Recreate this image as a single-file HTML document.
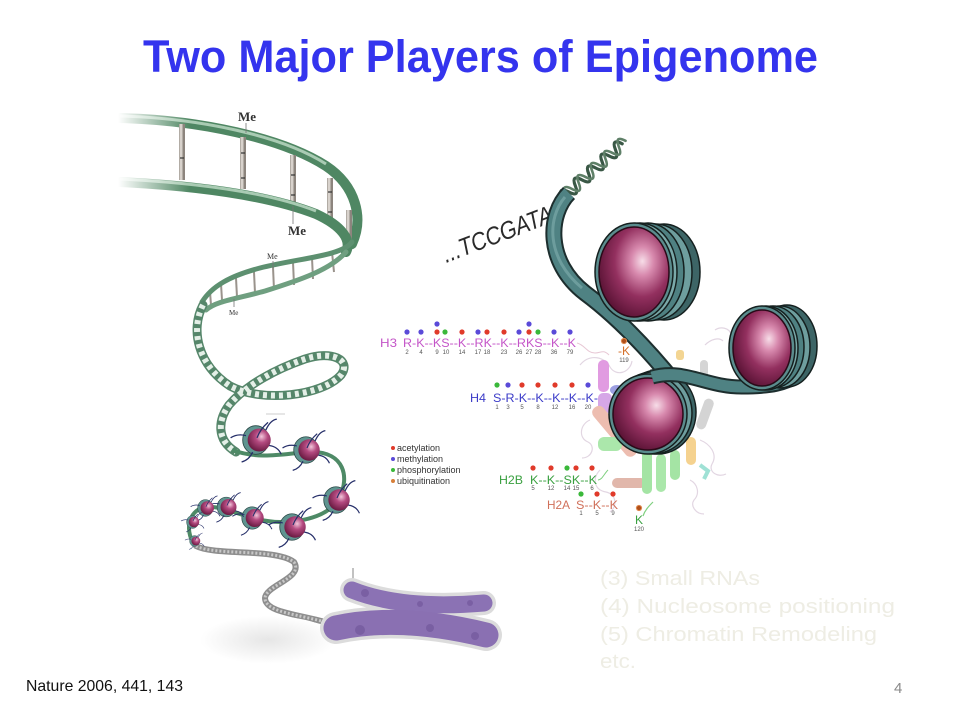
<!DOCTYPE html>
<html><head><meta charset="utf-8">
<style>
html,body{margin:0;padding:0;background:#fff;}
svg{display:block;}
</style></head>
<body>
<svg width="960" height="720" viewBox="0 0 960 720" xmlns="http://www.w3.org/2000/svg" font-family="'Liberation Sans', sans-serif">
<defs>
  <radialGradient id="nuc" cx="0.62" cy="0.38" r="0.72">
    <stop offset="0" stop-color="#f7dde8"/>
    <stop offset="0.22" stop-color="#d88aae"/>
    <stop offset="0.55" stop-color="#93305f"/>
    <stop offset="1" stop-color="#4e0d2c"/>
  </radialGradient>
  <radialGradient id="nucS" cx="0.6" cy="0.35" r="0.75">
    <stop offset="0" stop-color="#f2c6da"/>
    <stop offset="0.35" stop-color="#b44a80"/>
    <stop offset="1" stop-color="#5a1034"/>
  </radialGradient>
  <linearGradient id="fadeG" gradientUnits="userSpaceOnUse" x1="118" y1="0" x2="190" y2="0">
    <stop offset="0" stop-color="#ffffff"/>
    <stop offset="1" stop-color="#4f8763"/>
  </linearGradient>
  <linearGradient id="fadeG2" gradientUnits="userSpaceOnUse" x1="118" y1="0" x2="190" y2="0">
    <stop offset="0" stop-color="#ffffff"/>
    <stop offset="1" stop-color="#a9cbb3"/>
  </linearGradient>
  <radialGradient id="shadow" cx="0.5" cy="0.5" r="0.5">
    <stop offset="0" stop-color="#e6e6e6"/>
    <stop offset="1" stop-color="#ffffff"/>
  </radialGradient>
  <g id="sn">
    <ellipse cx="-1" cy="0" rx="12" ry="13" fill="#5f9490" stroke="#2c4a48" stroke-width="0.8"/>
    <circle cx="2" cy="0" r="10.5" fill="url(#nucS)"/>
    <path d="M-10,-4 q-8,-2 -14,2 M8,-9 q4,-9 10,-10 M11,5 q8,1 11,8 M-4,11 q-3,7 -10,9 M0,-2 q3,-8 10,-14" stroke="#27306a" stroke-width="1.2" fill="none"/>
  </g>
</defs>

<rect width="960" height="720" fill="#fff"/>

<!-- Title -->
<text x="143" y="72" font-size="45" font-weight="bold" fill="#3434ee" textLength="675" lengthAdjust="spacingAndGlyphs">Two Major Players of Epigenome</text>

<!-- ============ LEFT FIGURE ============ -->
<path d="M120,118 C200,120 282,138 326,166 C356,186 364,218 352,244" fill="none" stroke="url(#fadeG)" stroke-width="10" stroke-linecap="round"/>
<path d="M120,116 C200,118 282,136 326,164" fill="none" stroke="url(#fadeG2)" stroke-width="3"/>
<g stroke="#8d857e" stroke-width="6" stroke-linecap="butt">
  <line x1="182" y1="124" x2="182" y2="180"/>
  <line x1="243" y1="137" x2="243" y2="189"/>
  <line x1="293" y1="155" x2="293" y2="206"/>
  <line x1="330" y1="178" x2="330" y2="223"/>
  <line x1="349" y1="210" x2="349" y2="240"/>
</g>
<g stroke="#d8d2cc" stroke-width="3">
  <line x1="181" y1="124" x2="181" y2="180"/>
  <line x1="242" y1="137" x2="242" y2="189"/>
  <line x1="292" y1="155" x2="292" y2="206"/>
  <line x1="329" y1="178" x2="329" y2="223"/>
  <line x1="348" y1="210" x2="348" y2="240"/>
</g>
<g stroke="#333" stroke-width="1.2">
  <line x1="241" y1="153" x2="245" y2="153"/><line x1="241" y1="178" x2="245" y2="178"/>
  <line x1="291" y1="175" x2="295" y2="175"/><line x1="291" y1="195" x2="295" y2="195"/>
  <line x1="328" y1="192" x2="332" y2="192"/><line x1="328" y1="212" x2="332" y2="212"/>
  <line x1="180" y1="158" x2="184" y2="158"/>
</g>
<path d="M120,182 C200,186 270,196 316,214 C342,226 352,240 346,252" fill="none" stroke="url(#fadeG)" stroke-width="10" stroke-linecap="round"/>
<path d="M120,179 C200,183 270,193 316,211" fill="none" stroke="url(#fadeG2)" stroke-width="3"/>

<g stroke="#9a938c" stroke-width="2">
  <line x1="332" y1="252" x2="334" y2="272"/>
  <line x1="312" y1="258" x2="313" y2="279"/>
  <line x1="293" y1="262" x2="294" y2="285"/>
  <line x1="273" y1="267" x2="274" y2="290"/>
  <line x1="254" y1="272" x2="255" y2="293"/>
  <line x1="236" y1="278" x2="237" y2="297"/>
  <line x1="221" y1="284" x2="222" y2="300"/>
  <line x1="210" y1="292" x2="211" y2="305"/>
</g>
<path d="M352,242 C342,256 300,258 260,268 C230,276 212,286 202,302" fill="none" stroke="#5d9070" stroke-width="5" stroke-linecap="round"/>
<path d="M346,252 C330,270 300,280 265,291 C236,299 216,301 206,310" fill="none" stroke="#6f9f80" stroke-width="5" stroke-linecap="round"/>

<g font-family="'Liberation Serif', serif" font-weight="bold" fill="#333">
  <text x="238" y="121" font-size="13">Me</text>
  <text x="288" y="235" font-size="13">Me</text>
  <text x="267" y="259" font-size="8" font-weight="normal">Me</text>
  <text x="229" y="315" font-size="7" font-weight="normal">Me</text>
</g>
<g stroke="#777" stroke-width="0.8">
  <line x1="246" y1="123" x2="246" y2="133"/>
  <line x1="293" y1="206" x2="293" y2="224"/>
  <line x1="273" y1="261" x2="273" y2="268"/>
  <line x1="234" y1="299" x2="234" y2="307"/>
</g>

<path d="M203,305 C190,330 198,365 230,386 C262,403 322,396 341,375 C352,360 332,350 305,359 C276,369 246,385 229,405 C218,420 216,440 236,452" fill="none" stroke="#55866a" stroke-width="9" stroke-linecap="round"/>
<path d="M203,305 C190,330 198,365 230,386 C262,403 322,396 341,375 C352,360 332,350 305,359 C276,369 246,385 229,405 C218,420 216,440 236,452" fill="none" stroke="#e4efe7" stroke-width="6" stroke-dasharray="4 4"/>

<path d="M232,450 C262,461 290,452 312,452 C345,452 349,478 340,496 C332,515 305,522 280,522 C250,522 226,505 206,507 C186,510 185,535 196,546" fill="none" stroke="#4e8a66" stroke-width="4"/>
<line x1="266" y1="414" x2="285" y2="414" stroke="#bbb" stroke-width="0.8"/>

<path d="M196,546 C215,556 275,548 294,562 C304,578 266,585 265,598 C265,613 300,614 332,624" fill="none" stroke="#8e8e8e" stroke-width="6" stroke-linecap="round"/>
<path d="M196,546 C215,556 275,548 294,562 C304,578 266,585 265,598 C265,613 300,614 332,624" fill="none" stroke="#c8c8c8" stroke-width="3" stroke-dasharray="2 2"/>

<use href="#sn" transform="translate(257,440) scale(1.1)"/>
<use href="#sn" transform="translate(307,450) scale(1.02)"/>
<use href="#sn" transform="translate(337,500) scale(1.02)"/>
<use href="#sn" transform="translate(293,527) scale(1.02)"/>
<use href="#sn" transform="translate(253,518) scale(0.86)"/>
<use href="#sn" transform="translate(227,507) scale(0.76)"/>
<use href="#sn" transform="translate(206,508) scale(0.64)"/>
<use href="#sn" transform="translate(193,522) scale(0.5)"/>
<use href="#sn" transform="translate(195,541) scale(0.42)"/>

<ellipse cx="268" cy="640" rx="68" ry="24" fill="url(#shadow)"/>
<line x1="353" y1="568" x2="353" y2="590" stroke="#666" stroke-width="0.8"/>
<path d="M352,590 Q402,610 484,603" fill="none" stroke="#dcdcdc" stroke-width="24" stroke-linecap="round"/>
<path d="M336,628 Q400,614 486,635" fill="none" stroke="#dcdcdc" stroke-width="32" stroke-linecap="round"/>
<path d="M352,590 Q402,610 484,603" fill="none" stroke="#8b72b4" stroke-width="17" stroke-linecap="round"/>
<path d="M336,628 Q400,614 486,635" fill="none" stroke="#8a70b2" stroke-width="25" stroke-linecap="round"/>
<g fill="#6f5499" opacity="0.6">
  <circle cx="365" cy="593" r="4"/><circle cx="420" cy="604" r="3"/><circle cx="470" cy="603" r="3"/>
  <circle cx="360" cy="630" r="5"/><circle cx="430" cy="628" r="4"/><circle cx="475" cy="636" r="4"/>
</g>

<g font-size="9" fill="#333">
  <circle cx="393" cy="448" r="2" fill="#e03a2a"/><text x="397" y="451">acetylation</text>
  <circle cx="393" cy="459" r="2" fill="#5a4ad8"/><text x="397" y="462">methylation</text>
  <circle cx="393" cy="470" r="2" fill="#3ab83a"/><text x="397" y="473">phosphorylation</text>
  <circle cx="393" cy="481" r="2" fill="#d8803a"/><text x="397" y="484">ubiquitination</text>
</g>

<!-- ============ RIGHT FIGURE ============ -->
<g opacity="0.75">
<g fill="none" stroke="#d9c9d9" stroke-width="1.2">
  <path d="M580,365 c10,-12 25,-8 30,2 c6,10 20,6 22,-6"/>
  <path d="M590,420 c-10,4 -12,18 -2,22 c8,4 4,16 -6,16"/>
  <path d="M600,470 c-8,8 -6,20 6,22 c10,2 12,14 4,20"/>
  <path d="M700,440 c10,4 18,14 12,24 c-4,8 6,14 14,10"/>
  <path d="M705,345 c6,-6 14,-8 18,-4 M715,330 c6,-4 14,-2 16,4"/>
  <path d="M690,480 c8,4 10,14 4,20 c-4,6 2,14 10,14"/>
</g>
<path d="M577,343 c8,2 10,10 18,10 c6,0 8,-4 14,2" stroke="#e0b6c8" stroke-width="1" fill="none"/>
<rect x="598" y="360" width="11" height="32" rx="5" fill="#d77ad8"/>
<rect x="598" y="393" width="14" height="20" rx="5" fill="#c98ae0"/>
<ellipse cx="617" cy="390" rx="7" ry="5" fill="#7b7fd8"/>
<rect x="584" y="425" width="62" height="13" rx="6" fill="#e8a896" transform="rotate(50 615 431)"/>
<rect x="598" y="437" width="24" height="14" rx="6" fill="#8fe08f"/>
<rect x="612" y="478" width="34" height="10" rx="5" fill="#d8a090"/>
<rect x="642" y="450" width="10" height="44" rx="5" fill="#86dc86"/>
<rect x="656" y="454" width="10" height="38" rx="5" fill="#8ee08e"/>
<rect x="670" y="450" width="10" height="30" rx="5" fill="#86dc86"/>
<rect x="700" y="398" width="10" height="32" rx="5" fill="#c6c6c6" transform="rotate(20 705 414)"/>
<rect x="700" y="360" width="8" height="20" rx="4" fill="#c8c8c8"/>
<rect x="686" y="437" width="10" height="28" rx="5" fill="#f2c46a"/>
<rect x="676" y="350" width="8" height="10" rx="3" fill="#f0c870"/>
<path d="M700,465 l8,6 l-4,8" stroke="#7fd8c8" stroke-width="4" fill="none"/>
</g>

<!-- top-right mini helix -->
<g transform="translate(562,198) rotate(-42)" fill="none" stroke-linecap="round">
  <path d="M0,0 Q4.5,-12 9,0 T18,0 T27,0 T36,0 T45,0 T54,0 T63,0 T72,0 T81,0" stroke="#3a5846" stroke-width="3.2"/>
  <path d="M4.5,0 Q9,-12 13.5,0 T22.5,0 T31.5,0 T40.5,0 T49.5,0 T58.5,0 T67.5,0 T76.5,0 T85.5,0" stroke="#5f8068" stroke-width="2.6"/>
</g>

<text x="446" y="263" font-size="25" font-style="italic" fill="#2a2a2a" transform="rotate(-21 446 263)" textLength="116" lengthAdjust="spacingAndGlyphs">...TCCGATA</text>

<!-- ribbon A -->
<path d="M569,193 C548,214 545,262 585,293 C612,313 642,342 676,384" fill="none" stroke="#1d2e2e" stroke-width="17"/>
<path d="M569,193 C548,214 545,262 585,293 C612,313 642,342 676,384" fill="none" stroke="#4f8283" stroke-width="13"/>
<path d="M565,197 C547,218 546,258 582,288" fill="none" stroke="#7aa8a8" stroke-width="3" opacity="0.7"/>

<!-- nucleosome 1 -->
<g stroke="#15201f" stroke-width="1.5">
  <ellipse cx="664" cy="272" rx="36" ry="48" fill="#3d6566"/>
  <ellipse cx="656" cy="272" rx="36" ry="48" fill="#6e9e9e"/>
  <ellipse cx="648" cy="272" rx="36" ry="49" fill="#4f8182"/>
  <ellipse cx="640" cy="272" rx="37" ry="49" fill="#7aa9a9"/>
  <ellipse cx="634" cy="272" rx="39" ry="49" fill="#5a8c8d"/>
  <ellipse cx="634" cy="272" rx="35" ry="45" fill="url(#nuc)" stroke="#2a0a18"/>
</g>

<!-- nucleosome 2 -->
<g stroke="#15201f" stroke-width="1.5">
  <ellipse cx="658" cy="412" rx="38" ry="42" fill="#3d6566"/>
  <ellipse cx="653" cy="413" rx="39" ry="41" fill="#6e9e9e"/>
  <ellipse cx="648" cy="414" rx="39" ry="40" fill="#5a8c8d"/>
  <ellipse cx="648" cy="414" rx="35" ry="36" fill="url(#nuc)" stroke="#2a0a18"/>
</g>

<!-- ribbon B -->
<path d="M652,377 C685,368 705,387 742,387 C770,387 786,384 800,374" fill="none" stroke="#1d2e2e" stroke-width="15"/>
<path d="M652,377 C685,368 705,387 742,387 C770,387 786,384 800,374" fill="none" stroke="#4f8283" stroke-width="11"/>

<!-- nucleosome 3 -->
<g stroke="#15201f" stroke-width="1.5">
  <ellipse cx="787" cy="346" rx="30" ry="41" fill="#3d6566"/>
  <ellipse cx="780" cy="347" rx="30" ry="41" fill="#6e9e9e"/>
  <ellipse cx="773" cy="347" rx="31" ry="41" fill="#4f8182"/>
  <ellipse cx="766" cy="348" rx="32" ry="42" fill="#7aa9a9"/>
  <ellipse cx="762" cy="348" rx="33" ry="42" fill="#5a8c8d"/>
  <ellipse cx="762" cy="348" rx="29" ry="38" fill="url(#nuc)" stroke="#2a0a18"/>
</g>

<g font-size="12">
  <text x="380" y="347" fill="#c455c8" textLength="17" lengthAdjust="spacingAndGlyphs">H3</text>
  <text x="403" y="347" fill="#c455c8" textLength="173" lengthAdjust="spacingAndGlyphs">R-K--KS--K--RK--K--RKS--K--K</text>
  <text x="470" y="402" fill="#3c3cc8" textLength="16" lengthAdjust="spacingAndGlyphs">H4</text>
  <text x="493" y="402" fill="#3c3cc8" textLength="105" lengthAdjust="spacingAndGlyphs">S-R-K--K--K--K--K-</text>
  <text x="499" y="484" fill="#3aa040" textLength="24" lengthAdjust="spacingAndGlyphs">H2B</text>
  <text x="530" y="484" fill="#3aa040" textLength="67" lengthAdjust="spacingAndGlyphs">K--K--SK--K</text>
  <text x="547" y="509" fill="#d0705a" textLength="23" lengthAdjust="spacingAndGlyphs">H2A</text>
  <text x="576" y="509" fill="#d0705a" textLength="42" lengthAdjust="spacingAndGlyphs">S--K--K</text>
  <text x="618" y="355" fill="#d4702a" textLength="12" lengthAdjust="spacingAndGlyphs">-K</text>
  <text x="639" y="524" fill="#3aa040" text-anchor="middle">K</text>
</g>
<path d="M598,480 c4,0 6,-6 10,-10" stroke="#7fd07f" stroke-width="1" fill="none"/>
<path d="M643,516 c2,-6 6,-10 10,-14" stroke="#7fd07f" stroke-width="1.2" fill="none"/>

<g>
  <g fill="#5a4ad8">
    <circle cx="407" cy="332" r="2.6"/><circle cx="421" cy="332" r="2.6"/><circle cx="437" cy="324" r="2.6"/>
    <circle cx="478" cy="332" r="2.6"/><circle cx="519" cy="332" r="2.6"/><circle cx="529" cy="324" r="2.6"/>
    <circle cx="554" cy="332" r="2.6"/><circle cx="570" cy="332" r="2.6"/>
    <circle cx="508" cy="385" r="2.6"/><circle cx="588" cy="385" r="2.6"/>
  </g>
  <g fill="#e03a2a">
    <circle cx="437" cy="332" r="2.6"/><circle cx="462" cy="332" r="2.6"/><circle cx="487" cy="332" r="2.6"/>
    <circle cx="504" cy="332" r="2.6"/><circle cx="529" cy="332" r="2.6"/>
    <circle cx="522" cy="385" r="2.6"/><circle cx="538" cy="385" r="2.6"/><circle cx="555" cy="385" r="2.6"/><circle cx="572" cy="385" r="2.6"/>
    <circle cx="533" cy="468" r="2.6"/><circle cx="551" cy="468" r="2.6"/><circle cx="576" cy="468" r="2.6"/><circle cx="592" cy="468" r="2.6"/>
    <circle cx="597" cy="494" r="2.6"/><circle cx="613" cy="494" r="2.6"/>
  </g>
  <g fill="#3ab83a">
    <circle cx="445" cy="332" r="2.6"/><circle cx="538" cy="332" r="2.6"/>
    <circle cx="497" cy="385" r="2.6"/><circle cx="567" cy="468" r="2.6"/><circle cx="581" cy="494" r="2.6"/>
  </g>
  <g fill="#b0501a" stroke="#e08a50" stroke-width="1">
    <circle cx="624" cy="341" r="2.6"/><circle cx="639" cy="508" r="2.6"/>
  </g>
</g>

<g font-size="6" fill="#555" text-anchor="middle">
  <text x="407" y="354">2</text><text x="421" y="354">4</text><text x="437" y="354">9</text><text x="446" y="354">10</text>
  <text x="462" y="354">14</text><text x="478" y="354">17</text><text x="487" y="354">18</text><text x="504" y="354">23</text>
  <text x="519" y="354">26</text><text x="529" y="354">27</text><text x="538" y="354">28</text><text x="554" y="354">36</text><text x="570" y="354">79</text>
  <text x="624" y="362">119</text>
  <text x="497" y="409">1</text><text x="508" y="409">3</text><text x="522" y="409">5</text><text x="538" y="409">8</text>
  <text x="555" y="409">12</text><text x="572" y="409">16</text><text x="588" y="409">20</text>
  <text x="533" y="490">5</text><text x="551" y="490">12</text><text x="567" y="490">14</text><text x="576" y="490">15</text><text x="592" y="490">6</text>
  <text x="581" y="515">1</text><text x="597" y="515">5</text><text x="613" y="515">9</text>
  <text x="639" y="531">120</text>
</g>

<g font-size="20" fill="#eeede4">
  <text x="600" y="585" textLength="160" lengthAdjust="spacingAndGlyphs">(3) Small RNAs</text>
  <text x="600" y="613" textLength="295" lengthAdjust="spacingAndGlyphs">(4) Nucleosome  positioning</text>
  <text x="600" y="641" textLength="277" lengthAdjust="spacingAndGlyphs">(5) Chromatin Remodeling</text>
  <text x="600" y="668" textLength="36" lengthAdjust="spacingAndGlyphs">etc.</text>
</g>

<text x="26" y="691" font-size="16" fill="#111" textLength="157" lengthAdjust="spacingAndGlyphs">Nature 2006, 441, 143</text>
<text x="894" y="693" font-size="15" fill="#8a8a8a">4</text>
</svg>
</body></html>
